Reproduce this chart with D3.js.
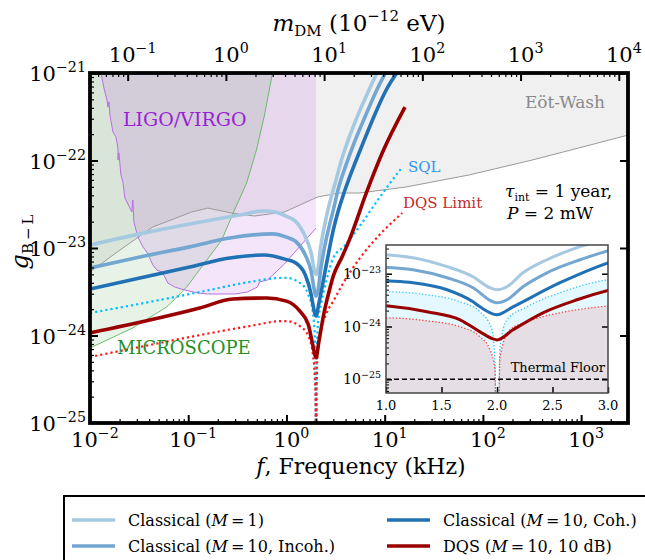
<!DOCTYPE html>
<html>
<head>
<meta charset="utf-8">
<script src="https://cdn.jsdelivr.net/npm/d3@7"></script>
<style>
  body { margin: 0; background: #fff; }
  svg text { font-family: "DejaVu Serif", serif; fill: #000; }
</style>
</head>
<body>
<script>
// frequencies in kHz, couplings g_B-L
const freqM1 = [0.01, 0.0322, 0.1035, 0.333, 0.57, 0.8, 1.0, 1.243, 1.55, 1.784, 1.937, 2.0, 2.09, 2.234, 2.45, 2.748, 2.928, 3.2, 3.62, 4.36, 5.51, 6.97, 8.59];
const gM1 = [1.08e-23, 1.45e-23, 1.88e-23, 2.38e-23, 2.65e-23, 2.55e-23, 2.3e-23, 2.01e-23, 1.36e-23, 8.77e-24, 5.42e-24, 4.97e-24, 5.66e-24, 1.04e-23, 1.84e-23, 3.25e-23, 4.23e-23, 6.0e-23, 1.0e-22, 1.85e-22, 3.6e-22, 6.5e-22, 1.08e-21];

const freqIncoh = [0.01, 0.0322, 0.1035, 0.264, 0.721, 1.0, 1.243, 1.55, 1.784, 1.964, 2.0, 2.09, 2.234, 2.45, 2.748, 3.0, 3.38, 3.97, 4.9, 6.34, 8.2, 10.85];
const gIncoh = [5.91e-24, 7.89e-24, 1.03e-23, 1.30e-23, 1.45e-23, 1.33e-23, 1.19e-23, 8.39e-24, 5.42e-24, 2.94e-24, 2.81e-24, 3.21e-24, 5.66e-24, 1.04e-23, 1.84e-23, 2.73e-23, 4.8e-23, 8.4e-23, 1.6e-22, 3.2e-22, 6.2e-22, 1.14e-21];

const freqCoh = [0.01, 0.0322, 0.1035, 0.264, 0.598, 1.0, 1.243, 1.55, 1.784, 1.847, 2.0, 2.144, 2.568, 3.0, 3.30, 3.88, 4.68, 5.91, 7.82, 10.36, 14.4];
const gCoh = [3.4e-24, 4.54e-24, 6.07e-24, 7.69e-24, 8.32e-24, 7.36e-24, 6.75e-24, 4.97e-24, 2.94e-24, 2.36e-24, 1.67e-24, 2.36e-24, 6.75e-24, 1.61e-23, 2.45e-23, 4.36e-23, 7.78e-23, 1.5e-22, 3.23e-22, 6.39e-22, 1.14e-21];

const freqDQS = [0.01, 0.0406, 0.131, 0.283, 0.627, 1.0, 1.369, 1.667, 1.847, 1.964, 2.0, 2.144, 2.414, 2.721, 3.0, 3.70, 4.36, 6.49, 9.44, 16.1];
const gDQS = [1.07e-24, 1.50e-24, 2.06e-24, 2.61e-24, 2.68e-24, 2.47e-24, 1.90e-24, 1.34e-24, 7.93e-25, 5.83e-25, 5.58e-25, 8.65e-25, 1.82e-24, 3.21e-24, 4.8e-24, 8.0e-24, 1.23e-23, 4.25e-23, 1.22e-22, 4.08e-22];

// SQL and DQS limit drop to zero at the 2 kHz resonance
const freqSQL = [0.01, 0.0406, 0.131, 0.421, 0.849, 1.0, 1.369, 1.667, 1.847, 1.955, 1.982, 2.0, 2.027, 2.09, 2.27, 2.568, 3.0, 3.88, 5.51, 8.79, 15.1];
const gSQL = [1.81e-24, 2.42e-24, 3.14e-24, 4.09e-24, 4.54e-24, 4.55e-24, 3.99e-24, 2.94e-24, 1.90e-24, 8.65e-25, 2.05e-25, 1e-28, 4.12e-25, 1.34e-24, 2.36e-24, 4.36e-24, 7.69e-24, 1.05e-23, 1.75e-23, 3.73e-23, 8.43e-23];

const freqLimit = [0.01, 0.0406, 0.131, 0.421, 0.911, 1.0, 1.369, 1.667, 1.847, 1.937, 1.982, 2.0, 2.027, 2.117, 2.27, 2.568, 3.0, 3.70, 5.51, 8.79, 15.1];
const gLimit = [5.68e-25, 7.79e-25, 1.01e-24, 1.28e-24, 1.46e-24, 1.46e-24, 1.28e-24, 9.86e-25, 6.37e-25, 3.61e-25, 1.51e-25, 1e-28, 2.66e-25, 8.65e-25, 1.23e-24, 1.82e-24, 2.47e-24, 3.8e-24, 7.5e-24, 1.4e-23, 2.51e-23];

// existing constraints
const freqEotWash = [0.01, 0.0202, 0.0436, 0.1085, 0.158, 0.276, 0.473, 0.955, 2.07, 3.45, 5.51, 16.5, 72.1, 314, 944, 3000];
const gEotWash = [5.32e-24, 9.49e-24, 1.74e-23, 2.58e-23, 2.86e-23, 2.51e-23, 2.32e-23, 2.58e-23, 3.83e-23, 4.25e-23, 4.25e-23, 4.98e-23, 6.83e-23, 1.01e-22, 1.39e-22, 1.95e-22];

const freqMicroscope = [0.01, 0.0273, 0.0605, 0.0966, 0.137, 0.219, 0.296, 0.393, 0.495, 0.598, 0.721];
const gMicroscope = [7.2e-25, 1.22e-24, 2.12e-24, 3.58e-24, 6.07e-24, 1.23e-23, 2.72e-23, 5.53e-23, 1.32e-22, 3.31e-22, 1e-21];

const freqLigo = [0.01293, 0.01387, 0.01488, 0.01523, 0.01559, 0.01596, 0.01712, 0.01837, 0.01925, 0.01925, 0.0197, 0.02064, 0.02163, 0.02266, 0.02374, 0.02669, 0.02732, 0.02797, 0.03071, 0.03452, 0.03791, 0.04362, 0.04788, 0.05383, 0.05772, 0.06193, 0.07295, 0.0921, 0.1249, 0.158, 0.2348, 0.2966, 0.4019, 0.5077, 0.532, 0.6414, 0.9544, 2.0, 2.0];
const gLigo = [1e-21, 6.74e-22, 4.91e-22, 4.08e-22, 4.67e-22, 3.31e-22, 2.12e-22, 1.86e-22, 1.39e-22, 1.01e-22, 1.22e-22, 6.83e-23, 5.68e-23, 3.73e-23, 3.36e-23, 2.58e-23, 3.54e-23, 1.98e-23, 1.34e-23, 1.03e-23, 9.0e-24, 6.4e-24, 5.61e-24, 5.32e-24, 4.67e-24, 3.98e-24, 3.58e-24, 3.31e-24, 3.06e-24, 2.98e-24, 2.98e-24, 2.98e-24, 3.14e-24, 3.58e-24, 4.09e-24, 4.31e-24, 6.57e-24, 1.69e-23, 1e-21];

const thermalFloor = 1e-25;
const mainExps = [-25, -24, -23, -22, -21];
const freqExps = [-2, -1, 0, 1, 2, 3];
const massExps = [-1, 0, 1, 2, 3, 4];
const insetExps = [-25, -24, -23];
const insetFreqTicks = [1.0, 1.5, 2.0, 2.5, 3.0];

const planck = 4.1357; // 1 kHz -> 4.1357e-12 eV

// ---- layout
const box = {left: 90, right: 628, top: 73, bottom: 423};
const ibox = {left: 386, right: 608, top: 245, bottom: 393};

const x = d3.scaleLog().domain([1e-2, 3e3]).range([box.left, box.right]);
const y = d3.scaleLog().domain([1e-25, 1e-21]).range([box.bottom, box.top]);
const xMass = d3.scaleLog().domain(x.domain().map(f => f * planck)).range(x.range());
const xi = d3.scaleLinear().domain([1, 3]).range([ibox.left, ibox.right]);
const yi = d3.scaleLog().domain([5.5e-26, 3.5e-23]).range([ibox.bottom, ibox.top]);

const zip = (fs, gs) => fs.map((f, i) => ({f, g: gs[i]}));

const curves = [
  {data: zip(freqM1, gM1), color: '#a6c9e2'},
  {data: zip(freqIncoh, gIncoh), color: '#73a6d1'},
  {data: zip(freqCoh, gCoh), color: '#2171b5'},
  {data: zip(freqDQS, gDQS), color: '#990000'}
];
const sql = zip(freqSQL, gSQL);
const limit = zip(freqLimit, gLimit);

const svg = d3.select('body').append('svg')
  .attr('width', 645).attr('height', 560)
  .attr('font-family', 'DejaVu Serif');

const defs = svg.append('defs');
defs.append('clipPath').attr('id', 'clipMain').append('rect')
  .attr('x', box.left).attr('y', box.top)
  .attr('width', box.right - box.left).attr('height', box.bottom - box.top);
defs.append('clipPath').attr('id', 'clipInset').append('rect')
  .attr('x', ibox.left).attr('y', ibox.top)
  .attr('width', ibox.right - ibox.left).attr('height', ibox.bottom - ibox.top);

// superscript power-of-ten label
const pow10 = (t, exp, size) => {
  t.append('tspan').text('10');
  t.append('tspan').attr('font-size', size * 0.68).attr('dy', -size * 0.42)
    .text(exp < 0 ? '\u2212' + (-exp) : exp);
};

// ---- main plot
const plot = svg.append('g').attr('clip-path', 'url(#clipMain)');

const lineMain = d3.line().x(d => x(d.f)).y(d => y(d.g));

plot.append('path')
  .datum(zip(freqEotWash, gEotWash))
  .attr('fill', '#808080').attr('fill-opacity', 0.12)
  .attr('d', d3.area().x(d => x(d.f)).y0(box.top).y1(d => y(d.g)));

plot.append('path')
  .datum(zip(freqMicroscope, gMicroscope))
  .attr('fill', '#1a8a1a').attr('fill-opacity', 0.1)
  .attr('d', d3.area().x(d => x(d.f)).y0(box.top).y1(d => y(d.g)));

const ligo = zip(freqLigo, gLigo);
plot.append('path')
  .attr('fill', '#9400d3').attr('fill-opacity', 0.1)
  .attr('d', lineMain(ligo) + 'Z');

plot.append('path').datum(zip(freqEotWash, gEotWash))
  .attr('fill', 'none').attr('stroke', '#9a9a9a').attr('stroke-width', 1)
  .attr('d', lineMain);
plot.append('path').datum(zip(freqMicroscope, gMicroscope))
  .attr('fill', 'none').attr('stroke', '#5cb85c').attr('stroke-width', 0.9)
  .attr('d', lineMain);
plot.append('path').datum(ligo.slice(0, -1))
  .attr('fill', 'none').attr('stroke', '#b86fe0').attr('stroke-width', 1)
  .attr('d', lineMain);

const smoothMain = d3.line().x(d => x(d.f)).y(d => y(d.g)).curve(d3.curveMonotoneX);

plot.append('path').datum(sql)
  .attr('fill', 'none').attr('stroke', '#00bfff').attr('stroke-width', 2.2)
  .attr('stroke-dasharray', '2.2,3').attr('d', smoothMain);
plot.append('path').datum(limit)
  .attr('fill', 'none').attr('stroke', '#ff1a1a').attr('stroke-width', 2.2)
  .attr('stroke-dasharray', '2.2,3').attr('d', smoothMain);

curves.forEach(c => {
  plot.append('path').datum(c.data)
    .attr('fill', 'none').attr('stroke', c.color).attr('stroke-width', 3.6)
    .attr('d', smoothMain);
});

// labels inside the plot
svg.append('text').attr('x', 605).attr('y', 108).attr('text-anchor', 'end')
  .attr('font-size', 17).style('fill', '#8a8a8a').text('Eöt-Wash');
svg.append('text').attr('x', 123).attr('y', 126)
  .attr('font-size', 19).style('fill', '#9a1fd6').text('LIGO/VIRGO');
svg.append('text').attr('x', 117).attr('y', 354)
  .attr('font-size', 18).style('fill', '#259125').text('MICROSCOPE');
svg.append('text').attr('x', 408).attr('y', 172)
  .attr('font-size', 15).style('fill', '#2b95f5').text('SQL');
svg.append('text').attr('x', 403).attr('y', 208)
  .attr('font-size', 15).style('fill', '#c42a2a').text('DQS Limit');

const tau = svg.append('text').attr('x', 505).attr('y', 197).attr('font-size', 17);
tau.append('tspan').attr('font-style', 'italic').text('τ');
tau.append('tspan').attr('font-size', 11).attr('dy', 4).text('int');
tau.append('tspan').attr('dy', -4).text(' = 1 year,');
const pw = svg.append('text').attr('x', 507).attr('y', 219).attr('font-size', 17);
pw.append('tspan').attr('font-style', 'italic').text('P');
pw.append('tspan').text(' = 2 mW');

// ---- axes (inward ticks) and frame
const tickAxis = (axis, tr, values, size, w) => {
  svg.append('g').attr('transform', tr)
    .call(axis.tickValues(values).tickSize(-size).tickFormat(''))
    .call(g => g.select('.domain').remove())
    .call(g => g.selectAll('line').attr('stroke-width', w));
};
const isMajor = t => Math.abs(Math.log10(t) - Math.round(Math.log10(t))) < 1e-6;

const xt = x.ticks();
tickAxis(d3.axisBottom(x), `translate(0,${box.bottom})`, xt.filter(t => !isMajor(t)), 4, 1.2);
tickAxis(d3.axisBottom(x), `translate(0,${box.bottom})`, xt.filter(isMajor), 8, 2);
const mt = xMass.ticks();
tickAxis(d3.axisTop(xMass), `translate(0,${box.top})`, mt.filter(t => !isMajor(t)), 4, 1.2);
tickAxis(d3.axisTop(xMass), `translate(0,${box.top})`, mt.filter(isMajor), 8, 2);
const yt = y.ticks();
tickAxis(d3.axisLeft(y), `translate(${box.left},0)`, yt.filter(t => !isMajor(t)), 4, 1.2);
tickAxis(d3.axisLeft(y), `translate(${box.left},0)`, yt.filter(isMajor), 8, 2);
tickAxis(d3.axisRight(y), `translate(${box.right},0)`, yt.filter(isMajor), 8, 2);

svg.append('rect')
  .attr('x', box.left).attr('y', box.top)
  .attr('width', box.right - box.left).attr('height', box.bottom - box.top)
  .attr('fill', 'none').attr('stroke', '#000').attr('stroke-width', 3.8);

mainExps.forEach(e => {
  const t = svg.append('text').attr('x', 86).attr('y', y(Math.pow(10, e)) + 8)
    .attr('text-anchor', 'end').attr('font-size', 21);
  pow10(t, e, 21);
});
freqExps.forEach(e => {
  const t = svg.append('text').attr('x', x(Math.pow(10, e)) + 5).attr('y', 447)
    .attr('text-anchor', 'middle').attr('font-size', 21);
  pow10(t, e, 21);
});
massExps.forEach(e => {
  const t = svg.append('text').attr('x', xMass(Math.pow(10, e)) + 5).attr('y', 62)
    .attr('text-anchor', 'middle').attr('font-size', 21);
  pow10(t, e, 21);
});

// axis titles
const title = svg.append('text').attr('x', 359).attr('y', 31)
  .attr('text-anchor', 'middle').attr('font-size', 23);
title.append('tspan').attr('font-style', 'italic').text('m');
title.append('tspan').attr('font-size', 15).attr('dy', 5).text('DM');
title.append('tspan').attr('dy', -5).text(' (10');
title.append('tspan').attr('font-size', 15).attr('dy', -10).text('\u221212');
title.append('tspan').attr('dy', 10).text(' eV)');

const xlab = svg.append('text').attr('x', 361).attr('y', 474)
  .attr('text-anchor', 'middle').attr('font-size', 22);
xlab.append('tspan').attr('font-style', 'italic').text('f');
xlab.append('tspan').text(', Frequency (kHz)');

const ylab = svg.append('text').attr('transform', 'translate(28,242) rotate(-90)')
  .attr('text-anchor', 'middle').attr('font-size', 24);
ylab.append('tspan').attr('font-style', 'italic').text('g');
ylab.append('tspan').attr('font-size', 15).attr('dy', 5).text('B\u2009\u2212\u2009L');

// ---- inset
svg.append('rect')
  .attr('x', ibox.left).attr('y', ibox.top)
  .attr('width', ibox.right - ibox.left).attr('height', ibox.bottom - ibox.top)
  .attr('fill', '#fff');

const inset = svg.append('g').attr('clip-path', 'url(#clipInset)');
const near = d => d.filter(p => p.f > 0.5 && p.f < 5);
const areaInset = d3.area().x(d => xi(d.f)).y0(ibox.bottom).y1(d => yi(d.g)).curve(d3.curveMonotoneX);
const lineInset = d3.line().x(d => xi(d.f)).y(d => yi(d.g)).curve(d3.curveMonotoneX);

inset.append('path').datum(near(sql)).attr('fill', '#00bfff').attr('fill-opacity', 0.11).attr('d', areaInset);
inset.append('path').datum(near(limit)).attr('fill', '#ff0000').attr('fill-opacity', 0.1).attr('d', areaInset);
inset.append('path').datum(near(sql)).attr('fill', 'none').attr('stroke', '#33c4ff')
  .attr('stroke-width', 1.3).attr('stroke-dasharray', '1.3,2').attr('d', lineInset);
inset.append('path').datum(near(limit)).attr('fill', 'none').attr('stroke', '#ff4040')
  .attr('stroke-width', 1.3).attr('stroke-dasharray', '1.3,2').attr('d', lineInset);

inset.append('line')
  .attr('x1', ibox.left).attr('x2', ibox.right)
  .attr('y1', yi(thermalFloor)).attr('y2', yi(thermalFloor))
  .attr('stroke', '#000').attr('stroke-width', 1.4).attr('stroke-dasharray', '5,3');

curves.forEach(c => {
  inset.append('path').datum(near(c.data))
    .attr('fill', 'none').attr('stroke', c.color).attr('stroke-width', 3)
    .attr('d', lineInset);
});

svg.append('text').attr('x', 605).attr('y', 372).attr('text-anchor', 'end')
  .attr('font-size', 13).text('Thermal Floor');

const yit = yi.ticks();
tickAxis(d3.axisLeft(yi), `translate(${ibox.left},0)`, yit.filter(t => !isMajor(t)), 3, 1);
tickAxis(d3.axisLeft(yi), `translate(${ibox.left},0)`, yit.filter(isMajor), 6, 1.5);
tickAxis(d3.axisRight(yi), `translate(${ibox.right},0)`, yit.filter(isMajor), 6, 1.5);
tickAxis(d3.axisBottom(xi), `translate(0,${ibox.bottom})`, insetFreqTicks, 6, 1.5);

svg.append('rect')
  .attr('x', ibox.left).attr('y', ibox.top)
  .attr('width', ibox.right - ibox.left).attr('height', ibox.bottom - ibox.top)
  .attr('fill', 'none').attr('stroke', '#444').attr('stroke-width', 1.5);

insetExps.forEach(e => {
  const t = svg.append('text').attr('x', 381).attr('y', yi(Math.pow(10, e)) + 5)
    .attr('text-anchor', 'end').attr('font-size', 14);
  pow10(t, e, 14);
});
insetFreqTicks.forEach(v => {
  svg.append('text').attr('x', xi(v)).attr('y', 410)
    .attr('text-anchor', 'middle').attr('font-size', 13).text(v.toFixed(1));
});

// ---- legend
const legend = svg.append('g');
legend.append('rect').attr('x', 64).attr('y', 496).attr('width', 640).attr('height', 100)
  .attr('fill', '#fff').attr('stroke', '#000').attr('stroke-width', 2);

const legendItems = [
  {col: 0, row: 0, color: curves[0].color, pre: 'Classical (', post: '\u2009=\u20091)'},
  {col: 0, row: 1, color: curves[1].color, pre: 'Classical (', post: '\u2009=\u200910, Incoh.)'},
  {col: 1, row: 0, color: curves[2].color, pre: 'Classical (', post: '\u2009=\u200910, Coh.)'},
  {col: 1, row: 1, color: curves[3].color, pre: 'DQS (', post: '\u2009=\u200910, 10 dB)'}
];
legendItems.forEach(it => {
  const lx = it.col === 0 ? 72 : 387;
  const ly = it.row === 0 ? 520 : 546;
  legend.append('line').attr('x1', lx).attr('x2', lx + 43).attr('y1', ly).attr('y2', ly)
    .attr('stroke', it.color).attr('stroke-width', 3.6);
  const t = legend.append('text').attr('x', lx + 56).attr('y', ly + 6).attr('font-size', 16);
  t.append('tspan').text(it.pre);
  t.append('tspan').attr('font-style', 'italic').text('M');
  t.append('tspan').text(it.post);
});
</script>
</body>
</html>
